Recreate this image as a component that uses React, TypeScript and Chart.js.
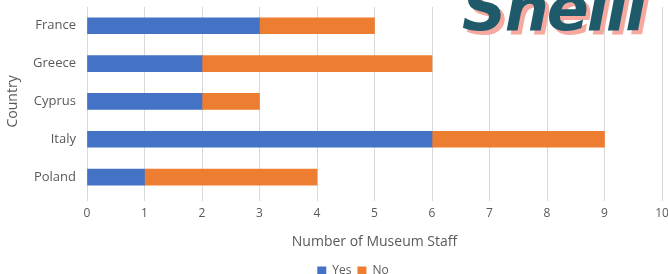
import React, { useEffect, useRef } from "react";
import { Chart, registerables } from "chart.js";

Chart.register(...registerables);

const categories = ["France", "Greece", "Cyprus", "Italy", "Poland"];
const yesValues = [3, 2, 2, 6, 1];
const noValues = [2, 4, 1, 3, 3];
const seriesNames = ["Yes", "No"];
const xTitle = "Number of Museum Staff";
const yTitle = "Country";

const legendShift = {
  id: "legendShift",
  afterLayout(chart: any) {
    if (chart.legend) {
      chart.legend.left += 22;
      chart.legend.right += 22;
    }
  },
};

export default function App() {
  const ref = useRef<HTMLCanvasElement>(null);
  useEffect(() => {
    document.body.style.margin = "0";
    const family = "'Open Sans', 'Liberation Sans', sans-serif";
    const chart = new Chart(ref.current!, {
      type: "bar",
      plugins: [legendShift],
      data: {
        labels: categories,
        datasets: [
          { label: seriesNames[0], data: yesValues, backgroundColor: "#4472C4", barThickness: 16 },
          { label: seriesNames[1], data: noValues, backgroundColor: "#ED7D31", barThickness: 16 },
        ],
      },
      options: {
        indexAxis: "y",
        animation: false,
        responsive: false,
        maintainAspectRatio: false,
        layout: { padding: { left: 0, right: 18, top: 6, bottom: 0 } },
        plugins: {
          legend: {
            position: "bottom",
            labels: { boxWidth: 9, boxHeight: 9, font: { family, size: 12 }, color: "#595959", padding: 6 },
          },
          tooltip: { enabled: false },
        },
        scales: {
          x: {
            stacked: true,
            min: 0,
            max: 10,
            ticks: { stepSize: 1, font: { family, size: 12 }, color: "#595959", padding: 5 },
            grid: { color: "#d9d9d9", tickLength: 5, lineWidth: 1 },
            border: { display: false },
            title: {
              display: true,
              text: xTitle,
              font: { family, size: 14 },
              color: "#595959",
              padding: { top: 0, bottom: 9 },
            },
            afterFit: (s: any) => { s.height = 63; },
          },
          y: {
            stacked: true,
            ticks: { font: { family, size: 13 }, color: "#595959", padding: 3 },
            grid: { display: false },
            border: { display: false },
            title: { display: true, text: yTitle, font: { family, size: 14 }, color: "#595959", padding: 5 },
            afterFit: (s: any) => { s.width = 87; },
          },
        },
      },
    });
    return () => chart.destroy();
  }, []);
  return (
    <div style={{ position: "relative", width: 668, height: 274, overflow: "hidden", background: "#fff" }}>
      <canvas ref={ref} width={680} height={291} style={{ position: "absolute", left: 0, top: -4 }} />
      <span
        style={{
          position: "absolute",
          left: 462,
          top: -28,
          fontFamily: "'DejaVu Sans', sans-serif",
          fontWeight: 700,
          fontStyle: "italic",
          fontSize: 62,
          color: "#1F5A6B",
          textShadow: "4px 4px 0 #F7A9A0",
          whiteSpace: "nowrap",
          letterSpacing: -2,
        }}
      >
        Shelli
      </span>
    </div>
  );
}
